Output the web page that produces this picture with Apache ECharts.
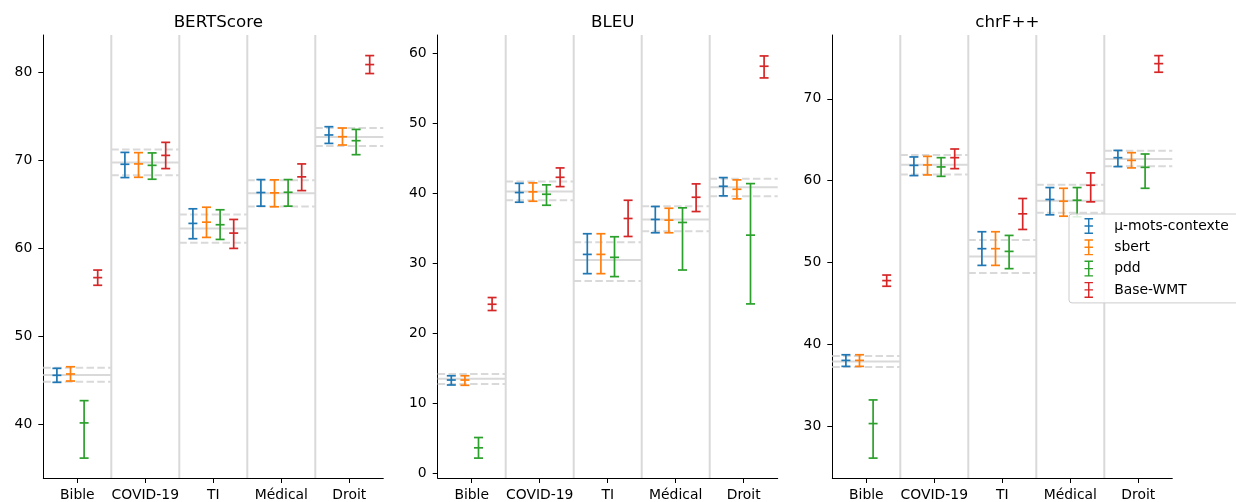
<!DOCTYPE html>
<html><head><meta charset="utf-8">
<script src="https://cdn.jsdelivr.net/npm/echarts@6/dist/echarts.min.js"></script>
<style>html,body{margin:0;padding:0;background:#fff}#c{width:1236px;height:502px}</style>
</head><body><div id="c"></div>
<script>
const categories = ['Bible', 'COVID-19', 'TI', 'Médical', 'Droit'];
const seriesNames = ['μ-mots-contexte', 'sbert', 'pdd', 'Base-WMT'];
const metricTitles = ['BERTScore', 'BLEU', 'chrF++'];

// each entry: [mean, low, high] per category
const bertscoreMuMots = [[45.60,44.80,46.39],[69.58,68.07,70.93],[62.86,61.12,64.52],[66.37,64.82,67.84],[72.91,71.95,73.85]];
const bertscoreSbert  = [[45.75,44.95,46.57],[69.62,68.10,70.90],[63.00,61.27,64.70],[66.33,64.75,67.81],[72.71,71.77,73.70]];
const bertscorePdd    = [[40.19,36.19,42.72],[69.46,67.88,70.87],[62.71,61.04,64.41],[66.40,64.82,67.84],[72.26,70.67,73.54]];
const bertscoreWmt    = [[56.70,55.83,57.56],[70.59,69.09,72.07],[61.76,60.02,63.31],[68.15,66.59,69.62],[80.91,79.89,81.93]];
const bertscoreRef    = [[45.63,44.87,46.46],[69.77,68.33,71.27],[62.29,60.67,63.88],[66.29,64.78,67.76],[72.68,71.66,73.70]];

const bleuMuMots = [[13.34,12.63,13.95],[40.11,38.73,41.43],[31.28,28.53,34.23],[36.27,34.37,38.12],[41.01,39.64,42.25]];
const bleuSbert  = [[13.34,12.59,13.95],[40.21,38.87,41.49],[31.28,28.53,34.23],[36.17,34.37,37.87],[40.58,39.21,41.92]];
const bleuPdd    = [[3.66,2.19,5.13],[39.87,38.30,41.21],[30.86,28.11,33.80],[35.84,29.05,37.93],[34.03,24.21,41.39]];
const bleuWmt    = [[24.16,23.27,25.12],[42.29,40.96,43.63],[36.41,33.84,39.01],[39.44,37.40,41.35],[58.15,56.48,59.62]];
const bleuRef    = [[13.53,12.77,14.20],[40.25,39.01,41.68],[30.47,27.48,33.03],[36.27,34.60,38.16],[40.86,39.58,42.10]];

const chrfMuMots = [[38.04,37.31,38.73],[61.87,60.62,62.90],[51.69,49.65,53.76],[57.70,55.83,59.16],[62.81,61.72,63.70]];
const chrfSbert  = [[38.04,37.31,38.73],[61.92,60.70,62.97],[51.69,49.65,53.76],[57.49,55.66,59.07],[62.48,61.56,63.42]];
const chrfPdd    = [[30.32,26.10,33.21],[61.68,60.53,62.81],[51.36,49.25,53.31],[57.61,55.59,59.16],[61.63,59.07,63.26]];
const chrfWmt    = [[47.79,47.10,48.47],[62.81,61.47,63.87],[55.95,54.04,57.82],[59.44,57.41,60.95],[74.30,73.25,75.28]];
const chrfRef    = [[37.92,37.23,38.57],[61.96,60.74,63.14],[50.75,48.72,52.74],[57.54,56.07,59.49],[62.65,61.75,63.66]];

const bertscoreTicks = [40, 50, 60, 70, 80];
const bleuTicks = [0, 10, 20, 30, 40, 50, 60];
const chrfTicks = [30, 40, 50, 60, 70];
const axisMin = [33.93, -0.65, 23.67];
const axisMax = [84.27, 62.61, 77.80];

const metricSeries = [
  [bertscoreMuMots, bertscoreSbert, bertscorePdd, bertscoreWmt],
  [bleuMuMots, bleuSbert, bleuPdd, bleuWmt],
  [chrfMuMots, chrfSbert, chrfPdd, chrfWmt]
];
const metricRef = [bertscoreRef, bleuRef, chrfRef];
const metricTicks = [bertscoreTicks, bleuTicks, chrfTicks];
const colors = ['#1f77b4', '#ff7f0e', '#2ca02c', '#d62728'];

const FONT = 'DejaVu Sans';
const gridLefts = [43.3, 437.7, 832.3];
const GRID_W = 340, GRID_TOP = 35, GRID_H = 444.3;
const GRAY = '#d9d9d9';

function toRows(arr) { return arr.map((d, i) => [i, d[0], d[1], d[2]]); }

function errorBarRender(k) {
  return function (params, api) {
    const c = api.value(0);
    const bw = api.size([1, 0])[0];
    const pm = api.coord([c, api.value(1)]);
    const x = pm[0] + (k - 1.5) * bw / 5;
    const yl = api.coord([c, api.value(2)])[1];
    const yh = api.coord([c, api.value(3)])[1];
    const ym = pm[1];
    const hw = 4.5;
    const style = { stroke: colors[k], lineWidth: 1.7, fill: null };
    return { type: 'group', children: [
      { type: 'line', shape: { x1: x, y1: yl, x2: x, y2: yh }, style },
      { type: 'line', shape: { x1: x - hw, y1: yl, x2: x + hw, y2: yl }, style },
      { type: 'line', shape: { x1: x - hw, y1: yh, x2: x + hw, y2: yh }, style },
      { type: 'line', shape: { x1: x - hw, y1: ym, x2: x + hw, y2: ym }, style }
    ]};
  };
}

function refRender(params, api) {
  const c = api.value(0);
  const bw = api.size([1, 0])[0];
  const pm = api.coord([c, api.value(1)]);
  const x0 = pm[0] - bw / 2, x1 = pm[0] + bw / 2;
  const yl = api.coord([c, api.value(2)])[1];
  const yh = api.coord([c, api.value(3)])[1];
  const solid = { stroke: GRAY, lineWidth: 2, fill: null };
  const dashed = { stroke: GRAY, lineWidth: 2, fill: null, lineDash: [7.5, 3.3] };
  return { type: 'group', children: [
    { type: 'line', shape: { x1: x0, y1: pm[1], x2: x1, y2: pm[1] }, style: solid },
    { type: 'line', shape: { x1: x0, y1: yl, x2: x1, y2: yl }, style: dashed },
    { type: 'line', shape: { x1: x0, y1: yh, x2: x1, y2: yh }, style: dashed }
  ]};
}

function sepRender(params, api) {
  const c = api.value(0);
  const bw = api.size([1, 0])[0];
  const x = api.coord([c, api.value(1)])[0] - bw / 2;
  const cs = params.coordSys;
  return { type: 'line', shape: { x1: x, y1: cs.y, x2: x, y2: cs.y + cs.height },
           style: { stroke: GRAY, lineWidth: 2, fill: null } };
}

const grids = [], xAxes = [], yAxes = [], series = [], titles = [];
for (let m = 0; m < 3; m++) {
  grids.push({ left: gridLefts[m], top: GRID_TOP, width: GRID_W, height: GRID_H, containLabel: false });
  titles.push({ text: metricTitles[m], left: gridLefts[m] + GRID_W / 2, top: 9, textAlign: 'center',
    textStyle: { fontFamily: FONT, fontSize: 16.7, fontWeight: 'normal', color: '#000' } });
  xAxes.push({ type: 'category', gridIndex: m, data: categories, boundaryGap: true,
    axisLine: { show: true, onZero: false, lineStyle: { color: '#000', width: 1 } },
    axisTick: { show: true, alignWithLabel: true, length: 5, lineStyle: { color: '#000', width: 1 } },
    axisLabel: { margin: 10, fontFamily: FONT, fontSize: 13.9, color: '#000', interval: 0 },
    splitLine: { show: false } });
  yAxes.push({ type: 'value', gridIndex: m, min: axisMin[m], max: axisMax[m],
    axisLine: { show: true, onZero: false, lineStyle: { color: '#000', width: 1 } },
    axisTick: { show: true, length: 5, lineStyle: { color: '#000', width: 1 }, customValues: metricTicks[m] },
    axisLabel: { customValues: metricTicks[m], margin: 11, fontFamily: FONT, fontSize: 13.9, color: '#000' },
    splitLine: { show: false } });
  series.push({ type: 'custom', name: 'sep' + m, xAxisIndex: m, yAxisIndex: m, silent: true, z: 1,
    renderItem: sepRender, data: categories.slice(1).map((c, i) => [i + 1, (axisMin[m] + axisMax[m]) / 2]) });
  series.push({ type: 'custom', name: 'ref' + m, xAxisIndex: m, yAxisIndex: m, silent: true, z: 2,
    renderItem: refRender, data: toRows(metricRef[m]) });
  for (let k = 0; k < 4; k++) {
    series.push({ type: 'custom', name: seriesNames[k], xAxisIndex: m, yAxisIndex: m, z: 3,
      itemStyle: { color: colors[k] }, renderItem: errorBarRender(k), data: toRows(metricSeries[m][k]) });
  }
}

const legendIcon = 'path://M0,0h9v1.5h-9z M3.75,0h1.5v17h-1.5z M0,15.5h9v1.5h-9z M0,7.75h9v1.5h-9z';

const option = {
  animation: false,
  backgroundColor: '#fff',
  title: titles,
  grid: grids,
  xAxis: xAxes,
  yAxis: yAxes,
  legend: {
    orient: 'vertical', left: 1069, top: 214, z: 10,
    data: seriesNames.map(n => ({ name: n, icon: legendIcon })),
    itemWidth: 9, itemHeight: 16, itemGap: 5.3,
    padding: [4, 12, 5, 15.5],
    backgroundColor: 'rgba(255,255,255,0.85)', borderColor: '#cccccc', borderWidth: 1, borderRadius: 3,
    textStyle: { fontFamily: FONT, fontSize: 13.9, color: '#000', padding: [0, 0, 0, 16] },
    selectedMode: false
  },
  series: series
};

const chart = echarts.init(document.getElementById('c'), null, { renderer: 'canvas' });
chart.setOption(option);
</script>
</body></html>
